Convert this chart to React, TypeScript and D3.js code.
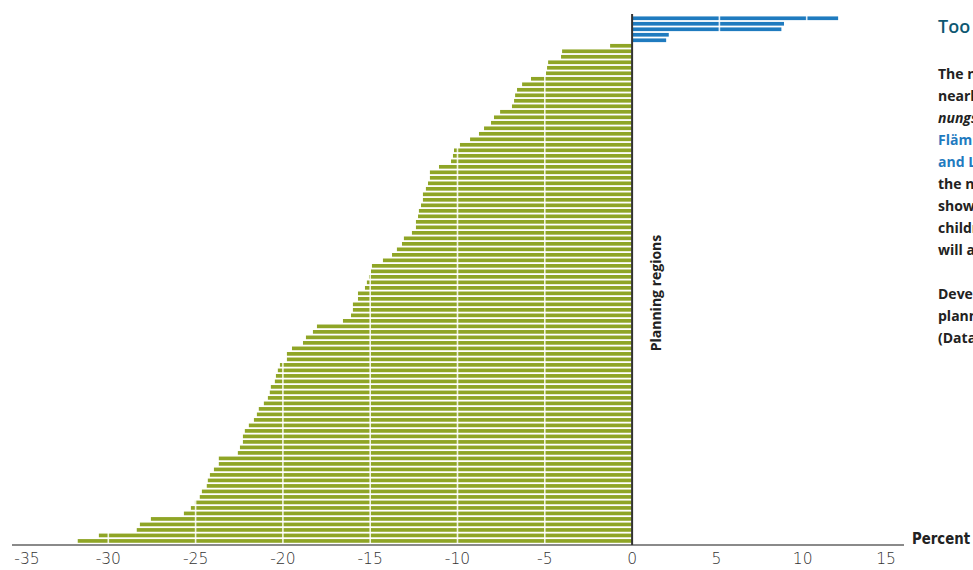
import React from 'react';
import * as d3 from 'd3';

// Development of the number of children per planning region (percent)
const gainValues = [11.8, 8.7, 8.55, 2.1, 1.95];
const lossValues = [
  -1.26, -4.01, -4.07, -4.81, -4.87, -4.93, -5.79, -6.3, -6.59, -6.7,
  -6.76, -6.88, -7.56, -7.91, -8.08, -8.48, -8.77, -9.28, -9.86, -10.2,
  -10.26, -10.37, -11.06, -11.58, -11.58, -11.69, -11.81, -11.98, -11.98, -12.09,
  -12.21, -12.26, -12.38, -12.38, -12.61, -13.07, -13.18, -13.47, -13.75, -14.27,
  -14.9, -14.96, -15.07, -15.19, -15.3, -15.7, -15.7, -15.99, -15.99, -16.1,
  -16.56, -18.05, -18.28, -18.68, -18.85, -19.48, -19.77, -19.77, -20.17, -20.29,
  -20.4, -20.46, -20.69, -20.75, -20.86, -21.09, -21.38, -21.49, -21.66, -21.95,
  -22.18, -22.29, -22.29, -22.46, -22.58, -23.67, -23.67, -23.95, -24.18, -24.3,
  -24.36, -24.64, -24.76, -25.04, -25.27, -25.67, -27.56, -28.19, -28.37, -30.54,
  -31.75,
];
const tickValues = [-35, -30, -25, -20, -15, -10, -5, 0, 5, 10, 15];
const gridValues = [-30, -25, -20, -15, -10, -5, 5, 10];

const sideTitle = 'Too few children in the inner city';
const sideLines = [
  { text: 'The number of children under six', style: 'normal' },
  { text: 'nearly everywhere decreases. Pla-', style: 'normal' },
  { text: 'nungsräume such as', style: 'italic' },
  { text: 'Flämingstraße', style: 'link' },
  { text: 'and Lichtenrade', style: 'link' },
  { text: 'the number of young children', style: 'normal' },
  { text: 'shows a growth, while the', style: 'normal' },
  { text: 'children in other regions', style: 'normal' },
  { text: 'will also decline.', style: 'normal' },
  { text: '', style: 'normal' },
  { text: 'Development of children per', style: 'normal' },
  { text: 'planning region 2015-2030', style: 'normal' },
  { text: '(Data: Senate administration)', style: 'normal' },
];

const GREEN = '#8fa526';
const BLUE = '#1f7bbf';
const NARROW = "'DejaVu Sans', sans-serif";

// labels at the outer ends are pulled in a little, as in the print
const labelNudge = (t: number) => {
  if (t === -35) return 6;
  if (t === 15) return -8;
  if (t === 10) return -4;
  if (t === 5) return -3;
  return 0;
};

export default function App() {
  const width = 973;
  const height = 570;

  const rows = [
    ...gainValues.map((v, i) => ({ id: `g${i}`, value: v })),
    ...lossValues.map((v, i) => ({ id: `l${i}`, value: v })),
  ];

  const x = d3.scaleLinear().domain([-35, 15]).range([21, 894]);

  const barTop = 15.6;
  const barBottom = 543.6;
  const axisY = 545;

  const y = d3
    .scaleBand()
    .domain(rows.map((d) => d.id))
    .range([barTop, barBottom])
    .paddingInner(0.33)
    .paddingOuter(0.15);

  return (
    <svg
      width={width}
      height={height}
      style={{ position: 'absolute', left: 0, top: 0, background: '#fff' }}
    >
      {rows.map((d) => (
        <rect
          key={d.id}
          x={x(Math.min(0, d.value))}
          y={y(d.id)}
          width={Math.abs(x(d.value) - x(0))}
          height={y.bandwidth()}
          fill={d.value >= 0 ? BLUE : GREEN}
        />
      ))}

      {/* white grid lines over the bars */}
      {gridValues.map((g) => (
        <line
          key={g}
          x1={x(g)}
          x2={x(g)}
          y1={barTop}
          y2={barBottom}
          stroke="#fff"
          strokeOpacity={0.85}
          strokeWidth={1.6}
        />
      ))}

      {/* bottom axis line */}
      <line x1={12} x2={904} y1={axisY} y2={axisY} stroke="#8a8a8a" strokeWidth={2} />

      {/* zero line */}
      <line x1={x(0)} x2={x(0)} y1={14} y2={axisY} stroke="#333" strokeWidth={2} />

      {tickValues.map((t) => (
        <text
          key={t}
          x={x(t) + labelNudge(t)}
          y={564}
          textAnchor="middle"
          fontFamily={NARROW}
          fontStretch="condensed"
          fontWeight={300}
          fontSize={15.5}
          fill="#333"
        >
          {t}
        </text>
      ))}

      <text
        x={912}
        y={544}
        fontFamily={NARROW}
        fontStretch="condensed"
        fontSize={15}
        fontWeight="bold"
        fill="#222"
        textLength={58}
        lengthAdjust="spacingAndGlyphs"
      >
        Percent
      </text>

      <text
        transform={`translate(661,293) rotate(-90)`}
        textAnchor="middle"
        fontFamily="'Open Sans', sans-serif"
        fontSize={14}
        fontWeight="bold"
        fill="#222"
      >
        Planning regions
      </text>

      {/* side text panel (cut off by the window, as in the original) */}
      <text
        x={938}
        y={33}
        fontFamily="'Open Sans', sans-serif"
        fontSize={18}
        fontWeight={600}
        fill="#0e5872"
      >
        {sideTitle}
      </text>
      {sideLines.map((l, i) => (
        <text
          key={i}
          x={938}
          y={79 + i * 22}
          fontFamily="'Open Sans', sans-serif"
          fontSize={14}
          fontWeight="bold"
          fontStyle={l.style === 'italic' ? 'italic' : 'normal'}
          fill={l.style === 'link' ? BLUE : '#222'}
        >
          {l.text}
        </text>
      ))}
    </svg>
  );
}
